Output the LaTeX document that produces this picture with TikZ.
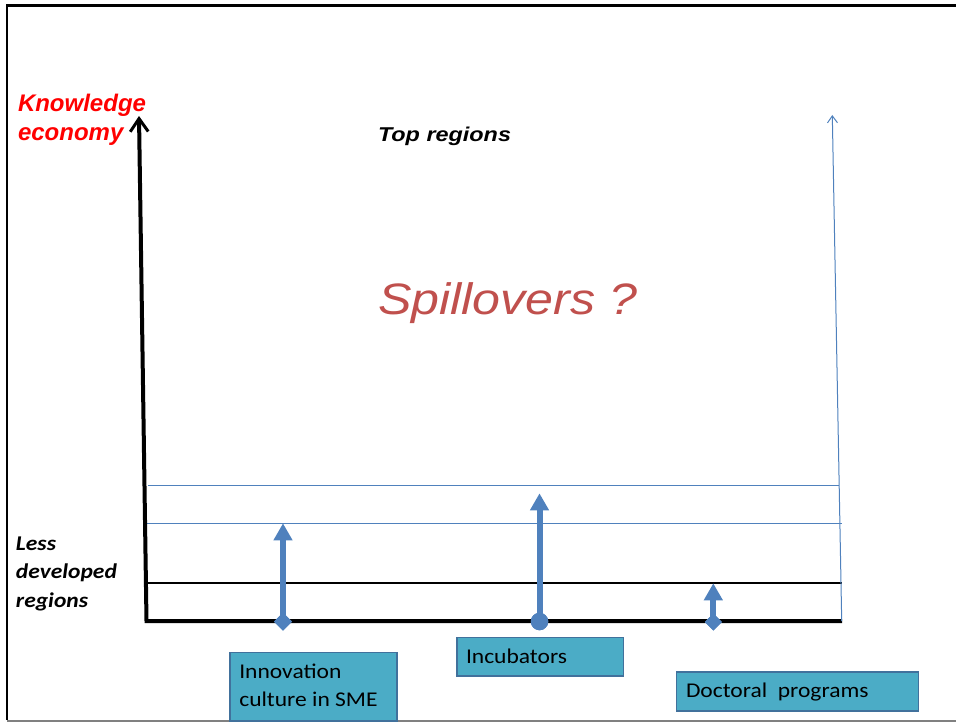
\documentclass[tikz,border=0pt]{standalone}
\usepackage{fontspec}
\usetikzlibrary{arrows.meta,shapes.geometric}
\newfontfamily\arialf{Liberation Sans}
\newfontfamily\calf{Carlito}
\definecolor{axisblue}{HTML}{4F81BD}
\definecolor{boxfill}{HTML}{4BACC6}
\definecolor{boxedge}{HTML}{41719C}
\definecolor{spillred}{HTML}{C0504D}
\begin{document}
\begin{tikzpicture}[x=1pt,y=-1pt,
  lbl/.style={inner sep=0pt, outer sep=0pt, anchor=base west},
  axisline/.style={line width=4pt, line join=miter},
  levelline/.style={line width=1.2pt},
  riser/.style={axisblue, line width=6pt, -{Triangle[length=17pt,width=18pt]}},
  basemark/.style={fill=axisblue, inner sep=0pt, outer sep=0pt},
  box/.style={draw=boxedge, fill=boxfill, line width=1.5pt, inner sep=0pt, anchor=north west},
  boxtext/.style={lbl, xscale=1.12, font=\calf\fontsize{21}{25}\selectfont},
  sidetext/.style={lbl, xscale=1.12, font=\calf\bfseries\itshape\fontsize{21}{25}\selectfont}]
\useasboundingbox (0,0) rectangle (956,722);

% slide frame
\draw[line width=2.5pt] (956,5.3) -- (7,5.3) -- (7,720);
\draw[line width=2pt, gray] (7,720.7) -- (956,720.7);

% axes
\coordinate (ytop) at (139,116);
\coordinate (origin) at (146.5,621);
\coordinate (xend) at (842,621);

% level lines
\coordinate (l1a) at (147,583);   \coordinate (l1b) at (842,583);
\coordinate (l2a) at (146,523.3); \coordinate (l2b) at (842,523.3);
\coordinate (l3a) at (148,485.3); \coordinate (l3b) at (839,485.3);
\draw[levelline, black] (l1a) -- (l1b);
\draw[levelline, axisblue] (l2a) -- (l2b);
\draw[levelline, axisblue] (l3a) -- (l3b);

\draw[axisline, {Straight Barb[length=13pt,width=18pt,line width=3pt]}-] (ytop) -- (origin) -- (xend);

% thin arrow on the right
\coordinate (rbot) at (841.7,621);
\coordinate (rtop) at (832.3,115);
\draw[axisblue, line width=1pt, -{Straight Barb[length=7pt,width=10pt,line width=1pt]}] (rbot) -- (rtop);

% instruments rising from the base line
\node[basemark, diamond, minimum width=18pt, minimum height=18pt] (m1) at (283,621.5) {};
\coordinate (t1) at (283,523.3);
\draw[riser] (m1.center) -- (t1);
\node[basemark, diamond, minimum width=18pt, minimum height=18pt] (m1) at (283,621.5) {};

\node[basemark, circle, minimum size=17.5pt] (m2) at (539.5,621.5) {};
\coordinate (t2) at (539.5,493.3);
\draw[riser] (m2.center) -- (t2);
\node[basemark, circle, minimum size=17.5pt] (m2) at (539.5,621.5) {};

\node[basemark, diamond, minimum width=17pt, minimum height=17pt] (m3) at (713.3,622) {};
\coordinate (t3) at (713.3,583.3);
\draw[riser] (m3.center) -- (t3);
\node[basemark, diamond, minimum width=17pt, minimum height=17pt] (m3) at (713.3,622) {};

% labels
\node[lbl, text=red, font=\arialf\bfseries\itshape\fontsize{24}{28}\selectfont] (ke1) at (18,112) {Knowledge};
\node[lbl, text=red, font=\arialf\bfseries\itshape\fontsize{24}{28}\selectfont] (ke2) at (18,140.5) {economy};
\node[lbl, xscale=1.17, font=\arialf\bfseries\itshape\fontsize{20}{24}\selectfont] (top) at (378,142) {Top regions};
\node[lbl, xscale=1.14, text=spillred, font=\arialf\itshape\fontsize{44}{52}\selectfont] (spill) at (378,314) {Spillovers ?};
\node[sidetext] (ld1) at (16,550) {Less};
\node[sidetext] (ld2) at (16,578.5) {developed};
\node[sidetext] (ld3) at (16,607) {regions};

% instrument boxes
\node[box, minimum width=166.7pt, minimum height=68.3pt] (b1) at (229.3,651.7) {};
\node[boxtext] (b1a) at (239.3,678.3) {Innovation};
\node[boxtext] (b1b) at (239.3,706.5) {culture in SME};
\node[box, minimum width=166.7pt, minimum height=38.3pt] (b2) at (456,636.7) {};
\node[boxtext] (b2a) at (466,663) {Incubators};
\node[box, minimum width=242pt, minimum height=39pt] (b3) at (675.7,671) {};
\node[boxtext] (b3a) at (686,697.3) {Doctoral\ \ programs};
\end{tikzpicture}
\end{document}
